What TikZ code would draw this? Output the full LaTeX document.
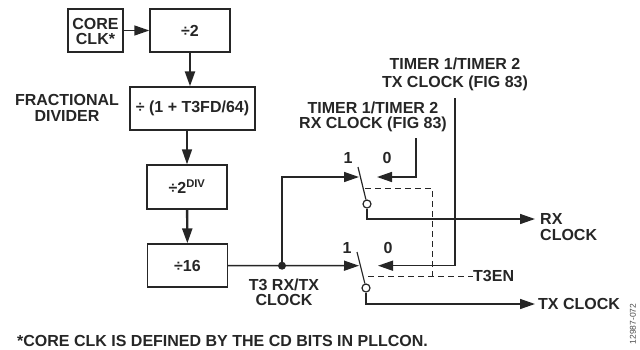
\documentclass[tikz,border=0pt]{standalone}
\usepackage{fontspec}
\setmainfont{Liberation Sans}
\usetikzlibrary{arrows.meta}
\begin{document}
\begin{tikzpicture}[x=1pt, y=-1pt]
  \tikzstyle{divbox}=[rectangle, draw=black!85, line width=1.4pt, anchor=center, inner sep=0pt,
                      font=\fontsize{16}{15.5}\selectfont\bfseries, text=black!85]
  \tikzstyle{lab}=[inner sep=0pt, align=center, font=\fontsize{16}{15.5}\selectfont\bfseries, text=black!85]
  \tikzstyle{arrow}=[-{Triangle[length=15pt, width=10pt]}, line width=1.5pt, draw=black!85]
  \tikzstyle{wire}=[line width=1.2pt, draw=black!85]
  \tikzstyle{contact}=[circle, draw=black!85, fill=white, line width=1.2pt, minimum size=8pt, inner sep=0pt]
  \tikzstyle{link}=[line width=0.8pt, draw=black!85, dash pattern=on 6pt off 4pt]
  \useasboundingbox (0,0) rectangle (640,349);

  % Blocos
  \node[divbox, minimum width=55pt, minimum height=43pt] (coreclk) at (95.5,30.5) {};
  \node[lab] (coretext) at (95.5,31.5) {CORE\\CLK*};
  \node[divbox, minimum width=80pt, minimum height=43pt] (divtwo) at (190,30.5) {÷2};
  \node[divbox, minimum width=125pt, minimum height=43pt] (fracdiv) at (192.5,108.5) {÷ (1 + T3FD/64)};
  \node[divbox, minimum width=80pt, minimum height=44pt] (divpow) at (187,187) {÷2\textsuperscript{DIV}};
  \node[divbox, minimum width=80pt, minimum height=43pt] (divsixteen) at (187.5,265.5) {÷16};

  % Ligacoes entre blocos
  \draw[arrow] (coreclk) -- (divtwo);
  \draw[arrow, line width=2.4pt] (divtwo) -- (divtwo |- fracdiv.north);
  \draw[arrow] (fracdiv.south -| divpow) -- (divpow);
  \draw[arrow, line width=2.4pt] (divpow) -- (divsixteen);

  % Chaves
  \node[contact] (rxpole) at (367,204) {};
  \node[contact] (txpole) at (366,288) {};
  \coordinate (rxtop) at (358,167);
  \coordinate (txtop) at (357,252);
  \draw[wire] (rxtop) -- (rxpole);
  \draw[wire] (txtop) -- (txpole);

  % Entrada comum
  \coordinate (rxone) at (359,177);
  \coordinate (txone) at (359,265.7);
  \node[circle, fill=black!85, minimum size=8pt, inner sep=0pt] (junction) at (282,265.7) {};
  \draw[arrow] (divsixteen) -- (txone);
  \draw[arrow] (junction.center) -- (junction.center |- rxone) -- (rxone);

  % Entradas dos timers
  \coordinate (rxzero) at (377,177);
  \coordinate (txzero) at (378,265.7);
  \coordinate (rxin) at (416,138);
  \coordinate (txin) at (455,98);
  \draw[arrow] (rxin) -- (rxin |- rxzero) -- (rxzero);
  \draw[arrow] (txin) -- (txin |- txzero) -- (txzero);

  % Saidas
  \node[lab, anchor=west, align=left] (rxclock) at (540,227) {RX\\CLOCK};
  \node[lab, anchor=west] (txclock) at (538,304) {TX CLOCK};
  \coordinate (rxout) at (535,219);
  \coordinate (txout) at (535,304);
  \draw[arrow] (rxpole) -- (rxpole |- rxout) -- (rxout);
  \draw[arrow] (txpole) -- (txpole |- txout) -- (txout);

  % Ligacao T3EN
  \node[lab, anchor=west] (tthreeen) at (473,276) {T3EN};
  \coordinate (dashtop) at (365,188);
  \coordinate (dashcorner) at (432,188);
  \coordinate (dashlow) at (368,276);
  \draw[link] (dashtop) -- (dashcorner) -- (dashcorner |- tthreeen);
  \draw[link] (dashlow) -- (tthreeen.west);

  % Rotulos
  \node[lab] (rxtitle) at (373,117) {TIMER 1/TIMER 2\\RX CLOCK (FIG 83)};
  \node[lab] (txtitle) at (455,74.5) {TIMER 1/TIMER 2\\[2.5pt]TX CLOCK (FIG 83)};
  \node[lab] (fraclabel) at (67,108) {FRACTIONAL\\DIVIDER};
  \node[lab] (clocklabel) at (284,292.5) {T3 RX/TX\\CLOCK};
  \foreach \name/\x/\y/\val in {rxa/348/158/1, rxb/387/158/0, txa/347/248/1, txb/388/248/0}
    \node[lab] (\name) at (\x,\y) {\val};

  % Nota
  \node[lab, anchor=west] (note) at (17,341) {*CORE CLK IS DEFINED BY THE CD BITS IN PLLCON.};
  \node[rotate=90, inner sep=0pt, text=black!70, font=\fontsize{8.5}{10}\selectfont] (figid) at (633,324) {12987-072};
\end{tikzpicture}
\end{document}
